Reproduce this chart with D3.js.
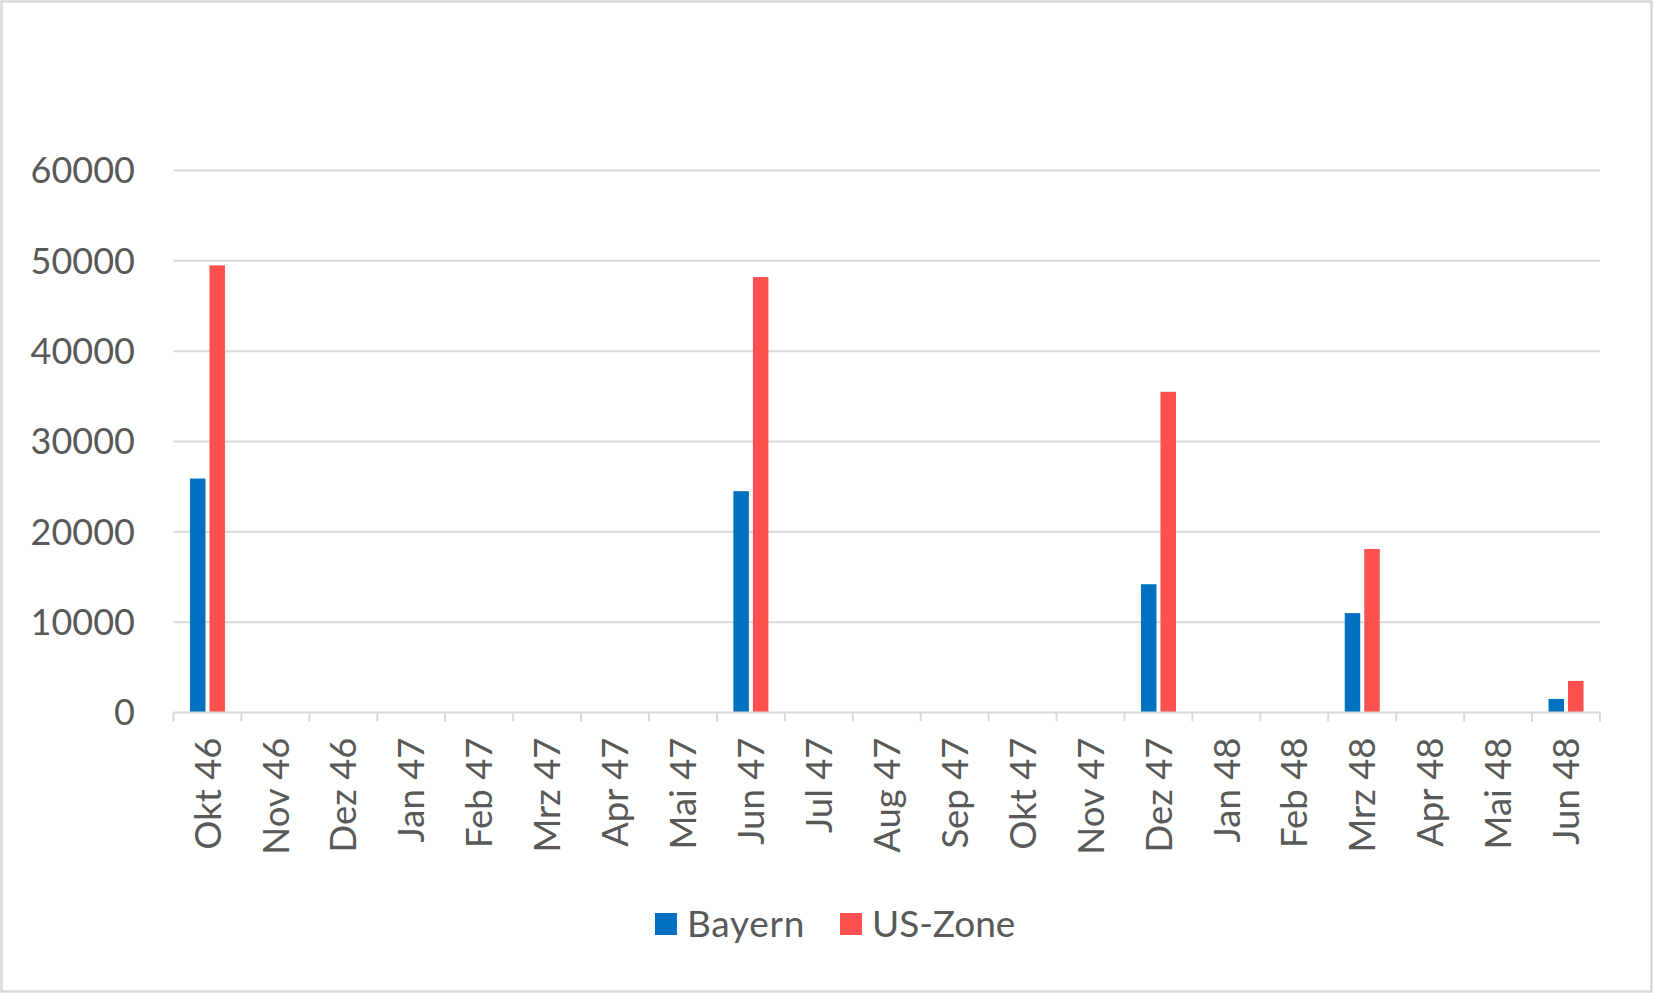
<!DOCTYPE html>
<html><head><meta charset="utf-8">
<script src="https://cdn.jsdelivr.net/npm/d3@7"></script>
<style>body{margin:0;background:#fff;} svg{display:block;}</style>
</head><body>
<svg id="chart" width="1653" height="993"></svg>
<script>
const categories = ["Okt 46","Nov 46","Dez 46","Jan 47","Feb 47","Mrz 47","Apr 47","Mai 47","Jun 47","Jul 47","Aug 47","Sep 47","Okt 47","Nov 47","Dez 47","Jan 48","Feb 48","Mrz 48","Apr 48","Mai 48","Jun 48"];
const bayern = [25900,null,null,null,null,null,null,null,24500,null,null,null,null,null,14200,null,null,11000,null,null,1500];
const usZone = [49500,null,null,null,null,null,null,null,48200,null,null,null,null,null,35500,null,null,18100,null,null,3500];
const seriesNames = ["Bayern","US-Zone"];
const yTicks = [0,10000,20000,30000,40000,50000,60000];

const colors = ["#0070C0","#FF5050"];
const W = 1653, H = 993;
const m = {left:173.5, right:1600, top:170.5, bottom:712.5};
const svg = d3.select("#chart");
const font = "Lato, 'Open Sans', sans-serif";
const txt = "#595959";

svg.append("rect").attr("x",1.5).attr("y",1.5).attr("width",W-3).attr("height",H-3)
  .attr("fill","#fff").attr("stroke","#d9d9d9").attr("stroke-width",2.5);

const x = d3.scaleBand().domain(categories).range([m.left,m.right]).paddingInner(0).paddingOuter(0);
const y = d3.scaleLinear().domain([0,60000]).range([m.bottom,m.top]);

// gridlines
svg.append("g").selectAll("line").data(yTicks.filter(d=>d>0)).join("line")
  .attr("x1",m.left).attr("x2",m.right)
  .attr("y1",d=>y(d)).attr("y2",d=>y(d))
  .attr("stroke","#d9d9d9").attr("stroke-width",2);

// y labels
svg.append("g").selectAll("text").data(yTicks).join("text")
  .attr("x",135).attr("y",d=>y(d)).attr("dy","0.36em")
  .attr("text-anchor","end").attr("font-family",font).attr("font-size",36)
  .attr("fill",txt).text(d=>d);

// bars
const barW = 15.5, gap = 4;
const series = [bayern, usZone];
series.forEach((vals,si)=>{
  svg.append("g").selectAll("rect").data(categories.map((c,i)=>({c,v:vals[i]})).filter(d=>d.v!=null)).join("rect")
    .attr("x",d=>x(d.c)+x.bandwidth()/2 + (si===0 ? -(gap/2+barW) : gap/2))
    .attr("width",barW)
    .attr("y",d=>y(d.v))
    .attr("height",d=>y(0)-y(d.v))
    .attr("fill",colors[si]);
});

// x axis baseline and ticks
svg.append("line").attr("x1",m.left).attr("x2",m.right).attr("y1",y(0)).attr("y2",y(0))
  .attr("stroke","#d9d9d9").attr("stroke-width",2);
const bounds = categories.map(c=>x(c)).concat([m.right]);
svg.append("g").selectAll("line").data(bounds).join("line")
  .attr("x1",d=>d).attr("x2",d=>d).attr("y1",y(0)).attr("y2",y(0)+9)
  .attr("stroke","#d9d9d9").attr("stroke-width",2);

// x labels
svg.append("g").selectAll("text").data(categories).join("text")
  .attr("transform",d=>`translate(${x(d)+x.bandwidth()/2},${y(0)+25}) rotate(-90)`)
  .attr("dy","0.36em").attr("text-anchor","end")
  .attr("font-family",font).attr("font-size",36.5).attr("fill",txt).text(d=>d);

// legend
const leg = svg.append("g");
const legX = [655, 840];
seriesNames.forEach((n,i)=>{
  leg.append("rect").attr("x",legX[i]).attr("y",913).attr("width",22).attr("height",22).attr("fill",colors[i]);
  leg.append("text").attr("x",legX[i]+32).attr("y",937).attr("font-family",font).attr("font-size",37)
    .attr("letter-spacing",i===0?0.7:0)
    .attr("fill",txt).text(n);
});
</script>
</body></html>
